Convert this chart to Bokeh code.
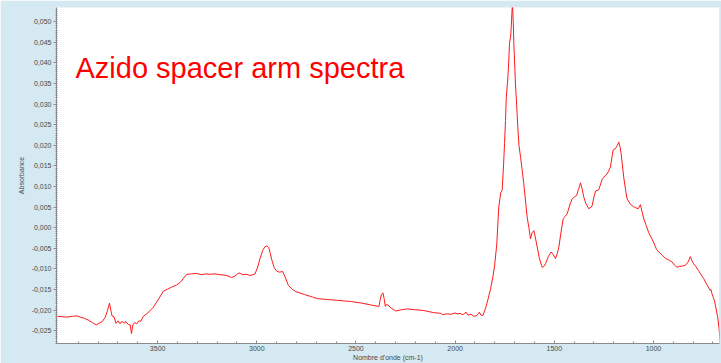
from bokeh.plotting import figure
from bokeh.models import (Range1d, SingleIntervalTicker, FixedTicker,
                          CustomJSTickFormatter, BoxAnnotation, Label)
from bokeh.embed import file_html
from bokeh.resources import INLINE

# ---- data ----
wavenumber = [
    4005, 3960, 3930, 3907, 3890, 3870, 3850, 3830, 3810, 3795, 3780, 3765,
    3752, 3743, 3736, 3730, 3720, 3710, 3700, 3690, 3680, 3670, 3660, 3648,
    3638, 3632, 3625, 3615, 3605, 3595, 3585, 3572, 3550, 3522, 3495, 3471,
    3450, 3429, 3405, 3387, 3370, 3354, 3330, 3303, 3280, 3260, 3236, 3210,
    3186, 3160, 3140, 3127, 3110, 3095, 3088, 3070, 3050, 3035, 3020, 3009,
    2995, 2984, 2970, 2959, 2948, 2940, 2932, 2925, 2912, 2900, 2885, 2870,
    2855, 2841, 2820, 2803, 2760, 2720, 2695, 2650, 2600, 2527, 2470, 2420,
    2384, 2378, 2372, 2364, 2358, 2352, 2346, 2338, 2320, 2300, 2270, 2241,
    2200, 2158, 2110, 2070, 2065, 2040, 2020, 2000, 1989, 1975, 1960, 1945,
    1935, 1920, 1906, 1890, 1878, 1870, 1860, 1850, 1845, 1835, 1822, 1810,
    1801, 1790, 1780, 1770, 1763, 1756, 1751, 1746, 1742, 1734, 1730, 1726,
    1720, 1717, 1714, 1711, 1707, 1704, 1700, 1696, 1690, 1684, 1678, 1670,
    1662, 1654, 1645, 1637, 1628, 1620, 1612, 1603, 1595, 1586, 1575, 1561,
    1553, 1544, 1530, 1516, 1505, 1494, 1485, 1477, 1466, 1455, 1445, 1435,
    1420, 1410, 1398, 1388, 1378, 1368, 1360, 1351, 1340, 1326, 1315, 1309,
    1300, 1292, 1276, 1259, 1245, 1233, 1217, 1208, 1203, 1192, 1182, 1175,
    1168, 1163, 1150, 1140, 1133, 1116, 1100, 1091, 1077, 1066, 1058, 1049,
    1036, 1024, 1010, 998, 985, 973, 955, 940, 920, 906, 895, 881,
    870, 855, 839, 825, 814, 806, 798, 785, 773, 760, 746, 735,
    721, 715, 710, 705, 693, 685, 676, 668, 662,
]
absorbance = [
    -0.0215, -0.0217, -0.0215, -0.0214, -0.0217, -0.0220, -0.0224, -0.0230, -0.0236, -0.0232, -0.0228, -0.0218,
    -0.0200, -0.0183, -0.0200, -0.0214, -0.0216, -0.0232, -0.0226, -0.0233, -0.0227, -0.0232, -0.0228, -0.0235,
    -0.0236, -0.0257, -0.0236, -0.0230, -0.0233, -0.0226, -0.0227, -0.0215, -0.0207, -0.0193, -0.0173, -0.0154,
    -0.0149, -0.0144, -0.0139, -0.0133, -0.0123, -0.0113, -0.0112, -0.0111, -0.0114, -0.0112, -0.0113, -0.0112,
    -0.0114, -0.0115, -0.0118, -0.0121, -0.0117, -0.0111, -0.0110, -0.0114, -0.0113, -0.0116, -0.0114, -0.0112,
    -0.0095, -0.0075, -0.0055, -0.0046, -0.0044, -0.0048, -0.0062, -0.0077, -0.0097, -0.0105, -0.0108, -0.0106,
    -0.0122, -0.0140, -0.0150, -0.0155, -0.0162, -0.0168, -0.0172, -0.0174, -0.0176, -0.0179, -0.0183, -0.0188,
    -0.0191, -0.0175, -0.0163, -0.0158, -0.0172, -0.0191, -0.0186, -0.0188, -0.0196, -0.0202, -0.0199, -0.0197,
    -0.0199, -0.0201, -0.0206, -0.0208, -0.0211, -0.0209, -0.0210, -0.0207, -0.0209, -0.0208, -0.0211, -0.0205,
    -0.0212, -0.0210, -0.0215, -0.0213, -0.0205, -0.0212, -0.0213, -0.0200, -0.0193, -0.0175, -0.0150, -0.0120,
    -0.0092, -0.0040, 0.0050, 0.0085, 0.0091, 0.0150, 0.0204, 0.0260, 0.0317, 0.0365, 0.0400, 0.0447,
    0.0465, 0.0487, 0.0520, 0.0545, 0.0500, 0.0447, 0.0400, 0.0349, 0.0300, 0.0244, 0.0200, 0.0171,
    0.0140, 0.0107, 0.0065, 0.0026, 0.0000, -0.0027, -0.0012, -0.0007, -0.0025, -0.0047, -0.0075, -0.0096,
    -0.0094, -0.0087, -0.0070, -0.0059, -0.0065, -0.0075, -0.0063, -0.0047, -0.0010, 0.0022, 0.0028, 0.0034,
    0.0058, 0.0070, 0.0075, 0.0078, 0.0093, 0.0109, 0.0095, 0.0074, 0.0058, 0.0046, 0.0050, 0.0054,
    0.0075, 0.0089, 0.0092, 0.0117, 0.0126, 0.0131, 0.0147, 0.0175, 0.0189, 0.0192, 0.0200, 0.0208,
    0.0195, 0.0180, 0.0123, 0.0090, 0.0070, 0.0057, 0.0051, 0.0049, 0.0046, 0.0056, 0.0040, 0.0022,
    0.0005, -0.0012, -0.0025, -0.0037, -0.0052, -0.0059, -0.0067, -0.0074, -0.0079, -0.0083, -0.0090, -0.0096,
    -0.0094, -0.0093, -0.0091, -0.0083, -0.0070, -0.0080, -0.0087, -0.0095, -0.0104, -0.0114, -0.0124, -0.0134,
    -0.0146, -0.0152, -0.0150, -0.0160, -0.0176, -0.0195, -0.0217, -0.0250, -0.0285,
]
x_major_ticks = [3500, 3000, 2500, 2000, 1500, 1000]
x_minor_ticks = list(range(700, 4000, 100))
title_text = "Azido spacer arm spectra"
x_label = "Nombre d'onde (cm-1)"
y_label = "Absorbance"

FONT = "Liberation Sans"
TXT = "#4a4a4a"
AXC = "#8a8a8a"

x0, x1 = 4010, 667
y0, y1 = -0.0281, 0.05347

p = figure(width=721, height=363, output_backend="svg", toolbar_location=None,
           x_range=Range1d(x0, x1), y_range=Range1d(y0, y1),
           min_border_left=56, min_border_right=2, min_border_top=7,
           min_border_bottom=20)
p.border_fill_color = "#d4e9f1"
p.background_fill_color = "white"
p.outline_line_color = None
p.xgrid.visible = False
p.ygrid.visible = False

# white panel with grey border (frame-relative screen units)
panel = BoxAnnotation(left=-35, right=663.5, top=337, bottom=-40,
                      left_units="screen", right_units="screen",
                      top_units="screen", bottom_units="screen",
                      fill_color="white", fill_alpha=1.0,
                      line_color="#7d7d7d", line_width=2, level="underlay")
p.add_layout(panel)

p.line(wavenumber, absorbance, line_color="#ff1a1a", line_width=1)

# x axis
xa = p.xaxis[0]
xa.ticker = FixedTicker(ticks=x_major_ticks, minor_ticks=x_minor_ticks)
xa.axis_line_color = AXC
xa.major_tick_line_color = AXC
xa.minor_tick_line_color = AXC
xa.major_tick_in = 3
xa.major_tick_out = 0
xa.minor_tick_in = 2
xa.minor_tick_out = 0
xa.major_label_standoff = 2
xa.major_label_text_font = FONT
xa.major_label_text_font_size = "7px"
xa.major_label_text_color = TXT
xa.axis_label = x_label
xa.axis_label_text_font = FONT
xa.axis_label_text_font_size = "7px"
xa.axis_label_text_font_style = "normal"
xa.axis_label_text_color = TXT
xa.axis_label_standoff = 0

# y axis
ya = p.yaxis[0]
ya.ticker = SingleIntervalTicker(interval=0.005, num_minor_ticks=10)
ya.formatter = CustomJSTickFormatter(code="""
    if (Math.abs(tick) < 1e-9) { tick = 0; }
    return tick.toFixed(3).replace('.', ',');
""")
ya.axis_line_color = AXC
ya.major_tick_line_color = AXC
ya.minor_tick_line_color = AXC
ya.major_tick_in = 0
ya.major_tick_out = 3
ya.minor_tick_in = 1
ya.minor_tick_out = 1
ya.major_label_standoff = 2
ya.major_label_text_font = FONT
ya.major_label_text_font_size = "7px"
ya.major_label_text_color = TXT
ya.axis_label = y_label
ya.axis_label_text_font = FONT
ya.axis_label_text_font_size = "7px"
ya.axis_label_text_font_style = "normal"
ya.axis_label_text_color = TXT
ya.axis_label_standoff = 4

# pixel -> data helpers for placing the title text
frame_w, frame_h = 663.0, 336.0
def px_to_x(dx):
    return x0 + (x1 - x0) * dx / frame_w
def py_to_y(dy_from_top):
    return y1 - (y1 - y0) * dy_from_top / frame_h

# title text inside the plot
p.add_layout(Label(x=px_to_x(19), y=py_to_y(60), text=title_text,
                   text_align="left", text_baseline="middle",
                   text_font=FONT, text_font_size="29px",
                   text_color="#ff0000"))

open("out.html", "w").write(file_html(p, INLINE))
